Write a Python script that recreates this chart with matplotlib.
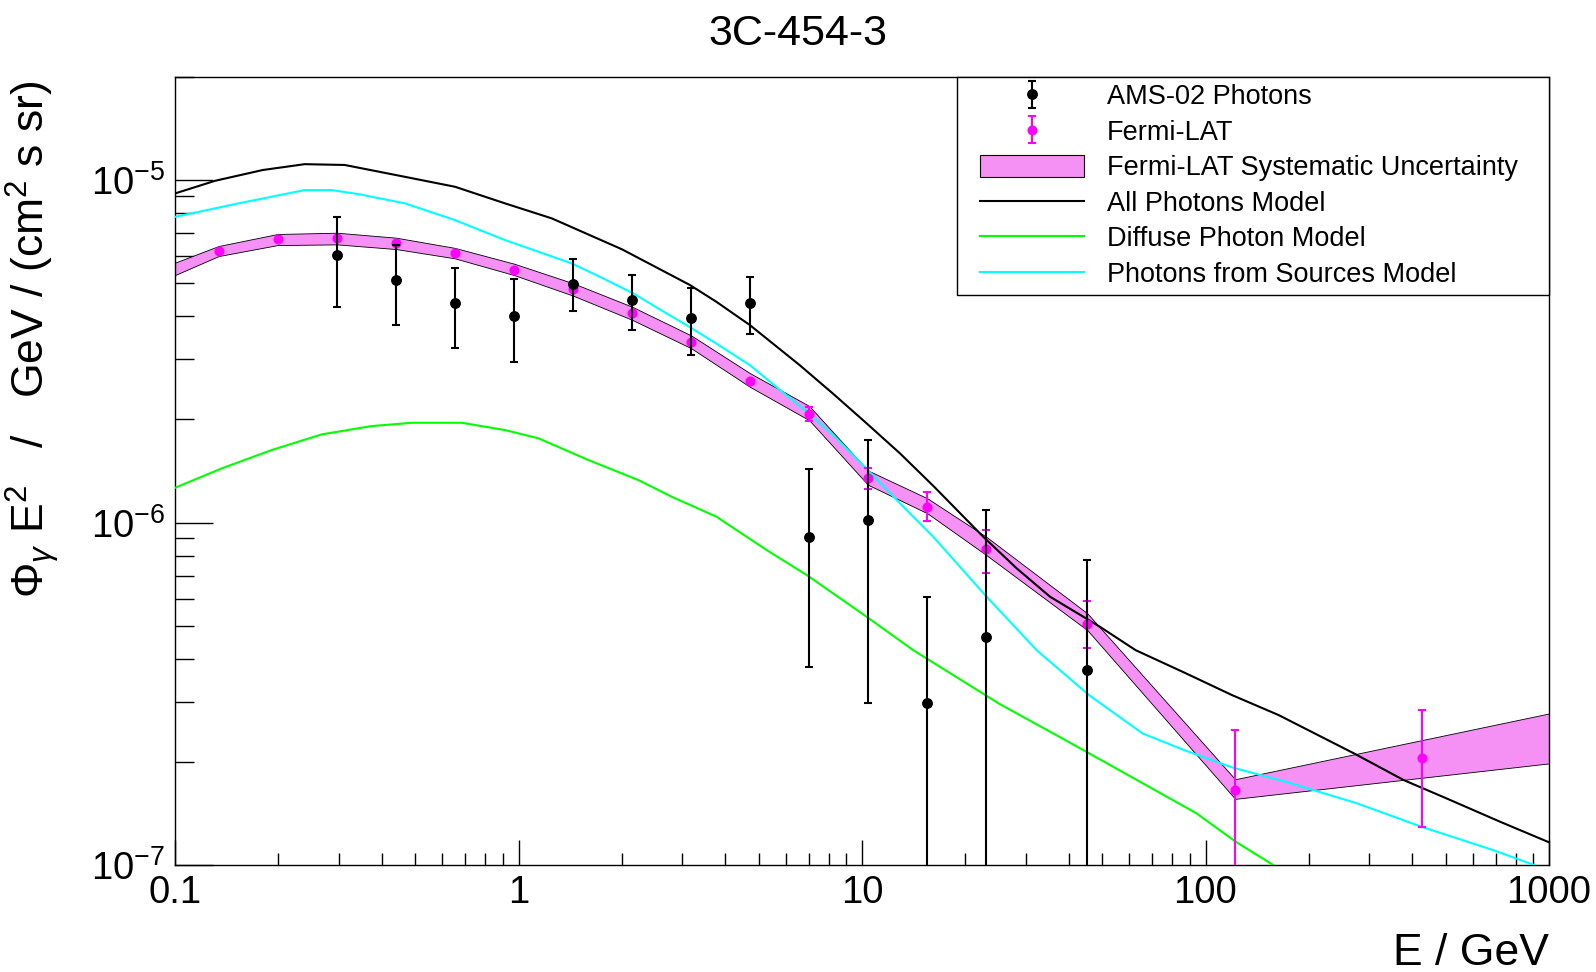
import matplotlib
matplotlib.use("Agg")
import matplotlib.pyplot as plt
from matplotlib.lines import Line2D
from matplotlib.patches import Patch
from matplotlib.container import ErrorbarContainer
from matplotlib.legend_handler import HandlerLine2D, HandlerPatch, HandlerErrorbar
from matplotlib.ticker import FixedLocator, FixedFormatter, LogLocator, NullFormatter

plt.rcParams['font.family'] = ['Liberation Sans', 'DejaVu Sans']
plt.rcParams['mathtext.fontset'] = 'custom'
plt.rcParams['mathtext.rm'] = 'Liberation Sans'
plt.rcParams['mathtext.it'] = 'Liberation Sans:italic'
plt.rcParams['mathtext.sf'] = 'Liberation Sans'

# AMS-02 photons (E in GeV, E^2 flux, error bar ends)
ams_e = [0.296, 0.440, 0.652, 0.971, 1.44, 2.14, 3.18, 4.72, 7.02, 10.4, 15.5, 23.0, 45.3]
ams_flux = [6.03e-6, 5.10e-6, 4.37e-6, 4.01e-6, 4.96e-6, 4.46e-6, 3.95e-6, 4.37e-6,
            9.05e-7, 1.02e-6, 2.98e-7, 4.62e-7, 3.71e-7]
ams_hi = [7.81e-6, 6.46e-6, 5.52e-6, 5.13e-6, 5.87e-6, 5.29e-6, 4.85e-6, 5.22e-6,
          1.43e-6, 1.74e-6, 6.07e-7, 1.09e-6, 7.77e-7]
ams_lo = [4.27e-6, 3.77e-6, 3.23e-6, 2.95e-6, 4.15e-6, 3.65e-6, 3.08e-6, 3.55e-6,
          3.79e-7, 2.98e-7, 1e-9, 1e-9, 1e-9]

# Fermi-LAT points
fermi_e = [0.134, 0.199, 0.296, 0.440, 0.652, 0.971, 1.44, 2.14, 3.18, 4.72,
           7.02, 10.4, 15.5, 23.0, 45.3, 122, 427]
fermi_flux = [6.20e-6, 6.71e-6, 6.76e-6, 6.53e-6, 6.11e-6, 5.48e-6, 4.80e-6, 4.08e-6, 3.36e-6, 2.59e-6,
              2.07e-6, 1.35e-6, 1.11e-6, 8.35e-7, 5.05e-7, 1.66e-7, 2.06e-7]
fermi_hi = [6.20e-6, 6.71e-6, 6.76e-6, 6.53e-6, 6.11e-6, 5.48e-6, 4.80e-6, 4.08e-6, 3.36e-6, 2.59e-6,
            2.18e-6, 1.44e-6, 1.23e-6, 9.51e-7, 5.91e-7, 2.48e-7, 2.84e-7]
fermi_lo = [6.20e-6, 6.71e-6, 6.76e-6, 6.53e-6, 6.11e-6, 5.48e-6, 4.80e-6, 4.08e-6, 3.36e-6, 2.59e-6,
            1.98e-6, 1.25e-6, 1.01e-6, 7.13e-7, 4.29e-7, 1e-9, 1.29e-7]

# Fermi-LAT systematic band
band_e = [0.1, 0.134, 0.199, 0.296, 0.440, 0.652, 0.971, 1.44, 2.14, 3.18, 4.72,
          7.02, 10.4, 15.5, 23.0, 45.3, 122, 1000]
band_hi = [5.74e-6, 6.42e-6, 6.96e-6, 7.02e-6, 6.79e-6, 6.34e-6, 5.70e-6, 5.00e-6, 4.27e-6, 3.52e-6, 2.73e-6,
           2.19e-6, 1.42e-6, 1.177e-6, 9.09e-7, 5.43e-7, 1.78e-7, 2.77e-7]
band_lo = [5.28e-6, 6.00e-6, 6.46e-6, 6.49e-6, 6.29e-6, 5.91e-6, 5.28e-6, 4.60e-6, 3.91e-6, 3.23e-6, 2.49e-6,
           1.99e-6, 1.29e-6, 1.064e-6, 8.04e-7, 4.85e-7, 1.56e-7, 1.98e-7]

# model curves
all_e = [0.1, 0.1307, 0.18, 0.2385, 0.312, 0.4676, 0.6536, 0.914, 1.25, 2.0, 3.154, 3.77, 4.72, 6.59, 8.23,
         10.31, 12.9, 16.12, 22.54, 28.2, 35.3, 49.3, 62.6, 87.6, 119.4, 163.3, 270, 377.6, 503, 720, 1000]
all_flux = [9.14e-6, 9.95e-6, 1.07e-5, 1.113e-5, 1.107e-5, 1.022e-5, 9.56e-6, 8.55e-6, 7.73e-6, 6.28e-6,
            4.94e-6, 4.41e-6, 3.77e-6, 2.88e-6, 2.38e-6, 1.949e-6, 1.592e-6, 1.28e-6, 9.09e-7, 7.35e-7,
            6.07e-7, 4.96e-7, 4.24e-7, 3.63e-7, 3.135e-7, 2.74e-7, 2.12e-7, 1.77e-7, 1.565e-7, 1.338e-7,
            1.165e-7]

diffuse_e = [0.1, 0.1368, 0.1912, 0.2674, 0.374, 0.489, 0.684, 0.914, 1.143, 1.599, 2.236, 2.795,
             3.77, 5.28, 6.90, 10.31, 14.1, 25.2, 36.1, 45.8, 65.7, 94.1, 122.4, 157.4, 200]
diffuse_flux = [1.263e-6, 1.439e-6, 1.628e-6, 1.809e-6, 1.913e-6, 1.956e-6, 1.956e-6, 1.862e-6, 1.762e-6,
                1.522e-6, 1.330e-6, 1.189e-6, 1.04e-6, 8.31e-7, 7.03e-7, 5.31e-7, 4.24e-7, 2.95e-7,
                2.42e-7, 2.12e-7, 1.732e-7, 1.416e-7, 1.17e-7, 1.0e-7, 8.6e-8]

src_e = [0.1, 0.153, 0.2385, 0.286, 0.342, 0.4676, 0.6536, 0.914, 1.43, 1.725, 2.157, 2.70, 3.155, 3.77,
         4.72, 5.77, 7.02, 8.25, 10.4, 12.9, 16.12, 23.07, 32.25, 45.8, 65.7, 87.6, 119.4, 171.2, 276.2,
         425.4, 686.9, 904.5, 1000]
src_flux = [7.81e-6, 8.55e-6, 9.35e-6, 9.35e-6, 9.10e-6, 8.55e-6, 7.64e-6, 6.68e-6, 5.71e-6, 5.22e-6,
            4.67e-6, 4.08e-6, 3.72e-6, 3.33e-6, 2.88e-6, 2.44e-6, 2.08e-6, 1.80e-6, 1.423e-6, 1.138e-6,
            9.09e-7, 6.07e-7, 4.24e-7, 3.135e-7, 2.42e-7, 2.157e-7, 1.928e-7, 1.75e-7, 1.514e-7,
            1.293e-7, 1.106e-7, 1.0e-7, 9.6e-8]

xtick_vals = [0.1, 1, 10, 100, 1000]
xtick_labels = ['0.1', '1', '10', '100', '1000']

band_color = '#f590f5'

fig = plt.figure(figsize=(15.96, 9.72), dpi=100)
ax = fig.add_axes([175 / 1596, 107 / 972, 1374 / 1596, 788 / 972])
ax.set_xscale('log')
ax.set_yscale('log')

ax.fill_between(band_e, band_lo, band_hi, facecolor=band_color, edgecolor='black',
                linewidth=0.6, zorder=2)

ax.plot(all_e, all_flux, color='black', lw=1.5, zorder=3)
ax.plot(diffuse_e, diffuse_flux, color='#00ff00', lw=1.5, zorder=3)
ax.plot(src_e, src_flux, color='#00ffff', lw=1.5, zorder=3)

f_err = [[f - l for f, l in zip(fermi_flux, fermi_lo)], [h - f for f, h in zip(fermi_flux, fermi_hi)]]
fermi = ax.errorbar(fermi_e, fermi_flux, yerr=f_err, fmt='o', color='#ff00ff', ms=6.2,
                    elinewidth=1.5, capsize=3.2, capthick=1.5, zorder=4)

a_err = [[f - l for f, l in zip(ams_flux, ams_lo)], [h - f for f, h in zip(ams_flux, ams_hi)]]
ams = ax.errorbar(ams_e, ams_flux, yerr=a_err, fmt='o', color='black', ms=6.8,
                  elinewidth=1.5, capsize=3.2, capthick=1.5, zorder=5)

ax.set_xlim(0.1, 1000)
ax.set_ylim(1e-7, 2e-5)

ax.xaxis.set_major_locator(FixedLocator(xtick_vals))
ax.xaxis.set_major_formatter(FixedFormatter(xtick_labels))
ax.xaxis.set_minor_locator(LogLocator(base=10, subs=range(2, 10)))
ax.xaxis.set_minor_formatter(NullFormatter())
ax.yaxis.set_minor_formatter(NullFormatter())

ax.tick_params(which='both', direction='in', top=False, right=False, labelsize=27.5, pad=7)
ax.tick_params(axis='x', which='major', length=18, width=1)
ax.tick_params(axis='x', which='minor', length=9, width=1)
ax.tick_params(axis='y', which='major', length=27, width=1)
ax.tick_params(axis='y', which='minor', length=14, width=1)
for s in ax.spines.values():
    s.set_linewidth(1.0)

ax.set_xlabel('E / GeV', fontsize=32)
ax.xaxis.label.set_ha('right')
ax.xaxis.label.set_va('center')
ax.xaxis.set_label_coords(1.0, -0.112)

ax.set_ylabel(r'$\Phi_{\gamma}$ E$^{2}$   /   GeV / (cm$^{2}$ s sr)', fontsize=32)
ax.yaxis.label.set_ha('right')
ax.yaxis.set_label_coords(-0.083, 0.995)

fig.text(0.5, 1 - 34 / 972, '3C-454-3', ha='center', va='center', fontsize=31)

handles = [ams, fermi,
           Patch(facecolor=band_color, edgecolor='black', linewidth=0.8),
           Line2D([], [], color='black', lw=1.5),
           Line2D([], [], color='#00ff00', lw=1.5),
           Line2D([], [], color='#00ffff', lw=1.5)]
labels = ['AMS-02 Photons', 'Fermi-LAT', 'Fermi-LAT Systematic Uncertainty',
          'All Photons Model', 'Diffuse Photon Model', 'Photons from Sources Model']
hmap = {Line2D: HandlerLine2D(xpad=0.6),
        Patch: HandlerPatch(xpad=0.6),
        ErrorbarContainer: HandlerErrorbar(xpad=0.6)}
leg = ax.legend(handles, labels, loc='upper right', bbox_to_anchor=(0.569, 0, 0.431, 1.0),
                mode='expand', borderaxespad=0, fancybox=False, framealpha=1, edgecolor='black',
                fontsize=19.5, handlelength=4.45, handleheight=0.9, handletextpad=0.85,
                labelspacing=0.33, borderpad=0.25, handler_map=hmap)
leg.get_frame().set_linewidth(1.0)

fig.savefig('out.png', dpi=100)
